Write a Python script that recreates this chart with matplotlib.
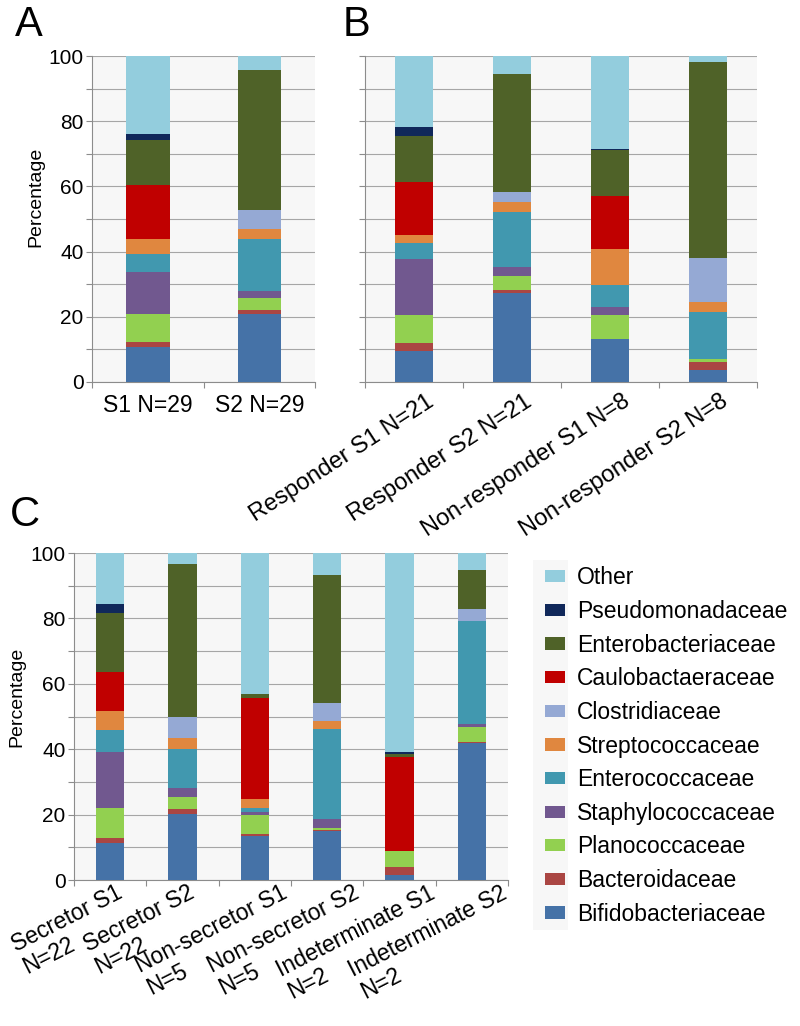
import matplotlib
matplotlib.use("Agg")
import matplotlib.pyplot as plt
import matplotlib.transforms as mtransforms
from matplotlib.patches import Rectangle
import numpy as np

plt.rcParams["font.family"] = ["Liberation Sans", "DejaVu Sans"]

# stacking order, bottom to top
families = ["Bifidobacteriaceae", "Bacteroidaceae", "Planococcaceae", "Staphylococcaceae",
            "Enterococcaceae", "Streptococcaceae", "Clostridiaceae", "Caulobactaeraceae",
            "Enterobacteriaceae", "Pseudomonadaceae", "Other"]
colors = ["#4572A7", "#AA4643", "#92D050", "#71588F", "#4198AF", "#E0873F",
          "#95A9D4", "#C00000", "#4F6228", "#10285A", "#93CDDD"]

a_labels = ["S1 N=29", "S2 N=29"]
a_values = [[10.7, 20.8], [1.5, 1.3], [8.6, 3.7], [12.9, 2.0], [5.6, 16.1], [4.6, 2.9],
            [0.0, 6.1], [16.6, 0.0], [13.6, 42.7], [2.1, 0.0], [23.8, 4.4]]

b_labels = ["Responder S1 N=21", "Responder S2 N=21", "Non-responder S1 N=8", "Non-responder S2 N=8"]
b_values = [[9.6, 27.2, 13.2, 3.6], [2.3, 0.9, 0.0, 2.5], [8.7, 4.4, 7.4, 0.8],
            [17.0, 2.7, 2.4, 0.3], [5.0, 16.9, 6.7, 14.3], [2.5, 3.0, 11.2, 3.1],
            [0.0, 3.1, 0.0, 13.5], [16.1, 0.0, 16.3, 0.0], [14.2, 36.2, 13.9, 60.1],
            [2.8, 0.0, 0.3, 0.0], [21.8, 5.6, 28.6, 1.8]]

c_labels = ["Secretor S1\nN=22", "Secretor S2\nN=22", "Non-secretor S1\nN=5",
            "Non-secretor S2\nN=5", "Indeterminate S1\nN=2", "Indeterminate S2\nN=2"]
c_values = [[11.2, 20.2, 13.6, 15.1, 1.5, 41.8], [1.6, 1.6, 0.4, 0.2, 2.4, 0.5],
            [9.1, 3.7, 5.9, 0.6, 5.1, 4.6], [17.2, 2.5, 1.0, 2.9, 0.0, 0.8],
            [6.8, 12.1, 1.0, 27.4, 0.0, 31.4], [5.7, 3.4, 2.8, 2.5, 0.0, 0.0],
            [0.0, 6.5, 0.0, 5.4, 0.0, 3.8], [12.0, 0.0, 30.9, 0.0, 28.6, 0.0],
            [18.2, 46.7, 1.3, 39.3, 0.9, 12.0], [2.7, 0.0, 0.0, 0.0, 0.5, 0.0],
            [15.5, 3.3, 43.1, 6.6, 61.0, 5.1]]

AXIS_GRAY = "#8C8C8C"


def stacked_panel(ax, labels, values, show_yticks=True):
    x = np.arange(len(labels))
    bottom = np.zeros(len(labels))
    handles = []
    for fam, col, vals in zip(families, colors, values):
        vals = np.array(vals)
        h = ax.bar(x, vals, 0.39, bottom=bottom, color=col, label=fam, zorder=3, linewidth=0)
        handles.append(h)
        bottom += vals
    ax.set_facecolor("#F7F7F7")
    ax.set_xlim(-0.5, len(labels) - 0.5)
    ax.set_ylim(0, 100)
    ax.set_yticks(np.arange(0, 101, 20))
    ax.set_yticks(np.arange(10, 100, 20), minor=True)
    ax.grid(True, axis="y", which="both", color="#A6A6A6", linewidth=0.8, zorder=0)
    ax.set_xticks(x)
    ax.set_xticks(np.arange(len(labels) + 1) - 0.5, minor=True)
    ax.tick_params(axis="x", which="major", length=0, labelsize=16.5, pad=9)
    ax.tick_params(axis="x", which="minor", length=4, color=AXIS_GRAY, width=0.8)
    ax.tick_params(axis="y", which="both", length=4, color=AXIS_GRAY, width=0.8,
                   labelsize=15, pad=2, labelleft=show_yticks)
    for side in ["top", "right"]:
        ax.spines[side].set_visible(False)
    for side in ["left", "bottom"]:
        ax.spines[side].set_color(AXIS_GRAY)
        ax.spines[side].set_linewidth(0.8)
    return handles


def shift_labels(fig, ax, dx):
    offset = mtransforms.ScaledTranslation(dx, 0, fig.dpi_scale_trans)
    for lab in ax.get_xticklabels():
        lab.set_transform(lab.get_transform() + offset)


def main():
    fig = plt.figure(figsize=(8.0, 10.26), dpi=100)
    ax_a = fig.add_axes([0.115, 0.6277, 0.279, 0.3177])
    ax_b = fig.add_axes([0.456, 0.6277, 0.49, 0.3177])
    ax_c = fig.add_axes([0.0925, 0.1423, 0.5425, 0.3187])

    stacked_panel(ax_a, a_labels, a_values)
    ax_a.set_xticklabels(a_labels)
    ax_a.set_ylabel("Percentage", fontsize=14)
    ax_a.yaxis.set_label_coords(-0.215, 0.567)

    stacked_panel(ax_b, b_labels, b_values, show_yticks=False)
    ax_b.set_xticklabels(b_labels, rotation=33, ha="right", va="top", fontsize=17)
    ax_b.tick_params(axis="x", which="major", pad=6)
    shift_labels(fig, ax_b, 0.24)

    handles = stacked_panel(ax_c, c_labels, c_values)
    ax_c.set_xticklabels(c_labels, rotation=27, ha="center", va="top", multialignment="left",
                         fontsize=16.5, linespacing=1.1)
    ax_c.tick_params(axis="x", which="major", pad=1)
    shift_labels(fig, ax_c, -0.38)
    ax_c.set_ylabel("Percentage", fontsize=14)
    ax_c.yaxis.set_label_coords(-0.112, 0.56)

    fig.patches.append(Rectangle((533 / 800, 1 - 930 / 1026), 35 / 800, 370 / 1026,
                                 transform=fig.transFigure, facecolor="#F7F7F7",
                                 edgecolor="none", zorder=0))
    fig.legend(handles[::-1], families[::-1], loc="upper left", bbox_to_anchor=(0.681, 0.4481),
               frameon=False, fontsize=16.5, borderaxespad=0, borderpad=0,
               handlelength=0.87, handleheight=0.45, handletextpad=0.52, labelspacing=0.465)

    fig.text(15 / 800, 1 - 5 / 1026, "A", fontsize=30, ha="left", va="top")
    fig.text(343 / 800, 1 - 5 / 1026, "B", fontsize=30, ha="left", va="top")
    fig.text(10 / 800, 1 - 495 / 1026, "C", fontsize=30, ha="left", va="top")

    fig.savefig("out.png", dpi=100, facecolor="white")
    plt.close(fig)


if __name__ == "__main__":
    main()
